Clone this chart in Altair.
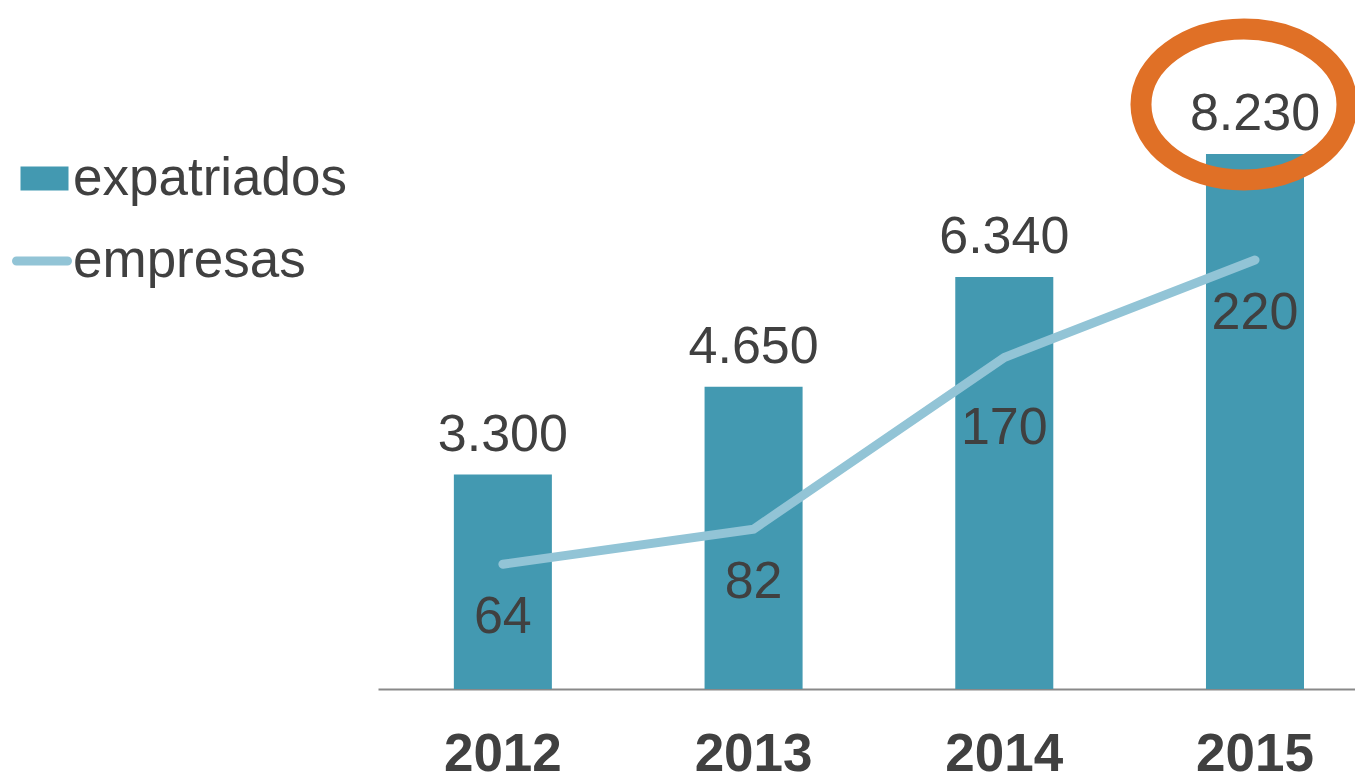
import altair as alt
import pandas as pd

# ---- data ----
years = ["2012", "2013", "2014", "2015"]
expatriados = [3300, 4650, 6340, 8230]
empresas = [64, 82, 170, 220]
highlight_year = "2015"

exp_labels = [f"{v:,}".replace(",", ".") for v in expatriados]

df = pd.DataFrame({
    "year": years,
    "expatriados": expatriados,
    "empresas": empresas,
    "exp_label": exp_labels,
})

FONT = "Liberation Sans"
TXT = "#404040"
BAR = "#4399B1"
LINE = "#92C4D6"
ORANGE = "#E07026"

# ellipse (cubic Bezier approximation) in unit symbol coordinates
ELLIPSE = (
    "M0.893,-0.481 "
    "C0.893,-0.0762 0.4453,0.252 -0.107,0.252 "
    "C-0.6593,0.252 -1.107,-0.0762 -1.107,-0.481 "
    "C-1.107,-0.8858 -0.6593,-1.214 -0.107,-1.214 "
    "C0.4453,-1.214 0.893,-0.8858 0.893,-0.481 Z"
)
CAPSULE = (
    "M-0.85,-0.15 H0.85 C0.933,-0.15 1,-0.083 1,0 C1,0.083 0.933,0.15 0.85,0.15 "
    "H-0.85 C-0.933,0.15 -1,0.083 -1,0 C-1,-0.083 -0.933,-0.15 -0.85,-0.15 Z"
)

x = alt.X(
    "year:N",
    title=None,
    scale=alt.Scale(paddingInner=0.609, paddingOuter=0.253, align=0.598),
    axis=alt.Axis(
        labelAngle=0, labelFont=FONT, labelFontSize=53, labelFontWeight="bold",
        labelColor=TXT, labelPadding=39, ticks=False, domainColor="#898989",
        domainWidth=2, grid=False,
    ),
)
ybar = alt.Y("expatriados:Q", scale=alt.Scale(domain=[0, 9000]), axis=None)
yline = alt.Y("empresas:Q", scale=alt.Scale(domain=[0, 300]), axis=None)

base = alt.Chart(df)

bars = base.transform_calculate(serie="'expatriados'").mark_bar().encode(
    x=x,
    y=ybar,
    fill=alt.Fill(
        "serie:N",
        scale=alt.Scale(domain=["expatriados"], range=[BAR]),
        legend=alt.Legend(
            title=None, orient="none", legendX=-360, legendY=48,
            symbolType="M-1,-0.5H1V0.5H-1Z", symbolSize=2304, symbolStrokeWidth=0,
            labelFont=FONT, labelFontSize=53, labelColor=TXT, labelOffset=2,
            labelLimit=600, padding=0,
        ),
    ),
)

bar_text = base.mark_text(
    font=FONT, fontSize=52, color=TXT, baseline="alphabetic", dy=-24
).encode(x=x, y=ybar, text="exp_label:N")

ellipse = base.transform_filter(alt.datum.year == highlight_year).mark_point(
    shape=ELLIPSE, size=42436, filled=False, stroke=ORANGE, strokeWidth=21, opacity=1
).encode(x=x, y=ybar)

left = alt.layer(bars, bar_text, ellipse)

line = base.transform_calculate(serie="'empresas'").mark_line(
    strokeWidth=9, strokeCap="round"
).encode(
    x=x,
    y=yline,
    stroke=alt.Stroke(
        "serie:N",
        scale=alt.Scale(domain=["empresas"], range=[LINE]),
        legend=alt.Legend(
            title=None, orient="none", legendX=-366, legendY=127,
            symbolType=CAPSULE, symbolSize=3600, symbolStrokeWidth=0,
            symbolFillColor=LINE,
            labelFont=FONT, labelFontSize=53, labelColor=TXT, labelOffset=1,
            labelLimit=600, padding=0,
        ),
    ),
)

line_text = base.transform_filter(alt.datum.year != "2014").mark_text(
    font=FONT, fontSize=52, color=TXT, baseline="alphabetic", dy=69
).encode(x=x, y=yline, text="empresas:Q")

line_text_b = base.transform_filter(alt.datum.year == "2014").mark_text(
    font=FONT, fontSize=52, color=TXT, baseline="alphabetic", dy=86
).encode(x=x, y=yline, text="empresas:Q")

right = alt.layer(line, line_text, line_text_b)

chart = (
    alt.layer(left, right)
    .resolve_scale(y="independent", fill="independent", stroke="independent")
    .properties(
        width=977,
        height=585,
        autosize=alt.AutoSizeParams(type="none"),
        padding={"left": 370, "top": 96, "right": 0, "bottom": 95},
    )
    .configure(background="white", view=alt.ViewConfig(stroke=None))
)

chart.save("out.html", embed_options={"renderer": "svg", "actions": False})
